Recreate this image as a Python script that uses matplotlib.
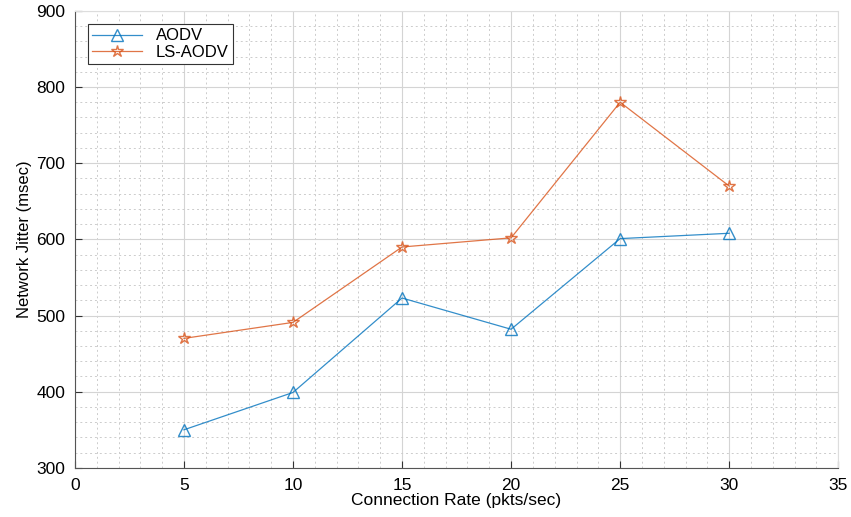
import matplotlib
matplotlib.use('Agg')
import matplotlib.pyplot as plt
from matplotlib.ticker import MultipleLocator

plt.rcParams['font.family'] = ['Liberation Sans', 'DejaVu Sans']

rate = [5, 10, 15, 20, 25, 30]
aodv = [350, 399, 523, 482, 601, 608]
ls_aodv = [470, 491, 590, 602, 780, 670]

fig = plt.figure(figsize=(8.51, 5.17), dpi=100)
ax = fig.add_axes([0.088, 0.095, 0.897, 0.884])

ax.plot(rate, aodv, color='#0072BD', marker='^', markersize=9,
        markerfacecolor='none', linewidth=0.9, label='AODV', alpha=0.8)
ax.plot(rate, ls_aodv, color='#D95319', marker='*', markersize=9,
        markerfacecolor='none', linewidth=0.9, label='LS-AODV', alpha=0.8)

ax.set_xlim(0, 35)
ax.set_ylim(300, 900)
ax.xaxis.set_major_locator(MultipleLocator(5))
ax.xaxis.set_minor_locator(MultipleLocator(1))
ax.yaxis.set_major_locator(MultipleLocator(100))
ax.yaxis.set_minor_locator(MultipleLocator(20))

ax.grid(which='major', color='#d4d4d4', linewidth=0.8)
ax.grid(which='minor', color='#cccccc', linestyle=(0, (2, 3)), linewidth=0.7)
ax.set_axisbelow(True)

for s in ['top', 'right']:
    ax.spines[s].set_color('#dddddd')
for s in ['left', 'bottom']:
    ax.spines[s].set_color('#555555')
ax.tick_params(which='major', direction='in', length=5, color='#333333',
               labelsize=12.5)
ax.tick_params(axis='y', pad=7)
ax.tick_params(axis='x', pad=7)
ax.tick_params(which='minor', length=0)
ax.tick_params(top=False, right=False)

ax.set_xlabel('Connection Rate (pkts/sec)', fontsize=12.5, labelpad=0)
ax.set_ylabel('Network Jitter (msec)', fontsize=12, labelpad=3)

leg = ax.legend(loc='upper left', fontsize=12, fancybox=False, framealpha=1,
                edgecolor='#333333', borderpad=0.25, handlelength=3.0,
                labelspacing=0.1, borderaxespad=0.8)
leg.get_frame().set_linewidth(0.8)

fig.savefig('out.png', dpi=100)
